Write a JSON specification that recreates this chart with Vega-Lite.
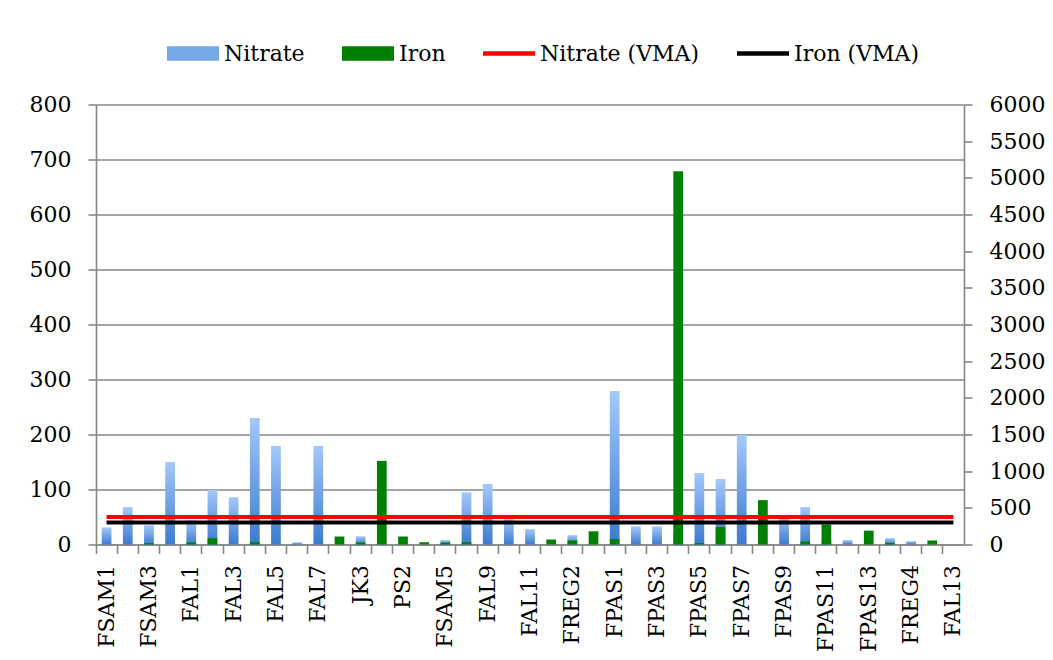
{
  "$schema": "https://vega.github.io/schema/vega-lite/v6.json",
  "autosize": {"type": "none"},
  "padding": {"left": 96, "top": 104.5, "right": 89, "bottom": 115.5},
  "width": 868,
  "height": 440,
  "background": "#ffffff",
  "config": {
    "view": {"stroke": null},
    "font": "DejaVu Serif",
    "axis": {"labelFont": "DejaVu Serif", "labelFontSize": 22, "labelColor": "#000000", "domainColor": "#878787", "domainWidth": 1.6, "tickColor": "#878787", "tickWidth": 1.6, "gridColor": "#878787", "gridWidth": 1.6, "titleFontSize": 0}
  },
  "data": {"values": [
    {"site": "FSAM1", "nitrate": 31, "iron": 0, "nitrate_vma": 50, "iron_vma": 300},
    {"site": "FSAM2", "nitrate": 68, "iron": 0, "nitrate_vma": 50, "iron_vma": 300},
    {"site": "FSAM3", "nitrate": 35, "iron": 18, "nitrate_vma": 50, "iron_vma": 300},
    {"site": "FSAM4", "nitrate": 150, "iron": 0, "nitrate_vma": 50, "iron_vma": 300},
    {"site": "FAL1", "nitrate": 44, "iron": 27, "nitrate_vma": 50, "iron_vma": 300},
    {"site": "FAL2", "nitrate": 99, "iron": 86, "nitrate_vma": 50, "iron_vma": 300},
    {"site": "FAL3", "nitrate": 86, "iron": 0, "nitrate_vma": 50, "iron_vma": 300},
    {"site": "FAL4", "nitrate": 230, "iron": 31, "nitrate_vma": 50, "iron_vma": 300},
    {"site": "FAL5", "nitrate": 179, "iron": 0, "nitrate_vma": 50, "iron_vma": 300},
    {"site": "FAL6", "nitrate": 4, "iron": 0, "nitrate_vma": 50, "iron_vma": 300},
    {"site": "FAL7", "nitrate": 179, "iron": 0, "nitrate_vma": 50, "iron_vma": 300},
    {"site": "JK2", "nitrate": 0, "iron": 109, "nitrate_vma": 50, "iron_vma": 300},
    {"site": "JK3", "nitrate": 15, "iron": 27, "nitrate_vma": 50, "iron_vma": 300},
    {"site": "PS1", "nitrate": 0, "iron": 1140, "nitrate_vma": 50, "iron_vma": 300},
    {"site": "PS2", "nitrate": 0, "iron": 109, "nitrate_vma": 50, "iron_vma": 300},
    {"site": "PS3", "nitrate": 0, "iron": 31, "nitrate_vma": 50, "iron_vma": 300},
    {"site": "FSAM5", "nitrate": 8, "iron": 27, "nitrate_vma": 50, "iron_vma": 300},
    {"site": "FAL8", "nitrate": 95, "iron": 31, "nitrate_vma": 50, "iron_vma": 300},
    {"site": "FAL9", "nitrate": 110, "iron": 0, "nitrate_vma": 50, "iron_vma": 300},
    {"site": "FAL10", "nitrate": 46, "iron": 0, "nitrate_vma": 50, "iron_vma": 300},
    {"site": "FAL11", "nitrate": 28, "iron": 0, "nitrate_vma": 50, "iron_vma": 300},
    {"site": "FREG1", "nitrate": 0, "iron": 68, "nitrate_vma": 50, "iron_vma": 300},
    {"site": "FREG2", "nitrate": 17, "iron": 55, "nitrate_vma": 50, "iron_vma": 300},
    {"site": "FREG3", "nitrate": 0, "iron": 180, "nitrate_vma": 50, "iron_vma": 300},
    {"site": "FPAS1", "nitrate": 279, "iron": 75, "nitrate_vma": 50, "iron_vma": 300},
    {"site": "FPAS2", "nitrate": 33, "iron": 0, "nitrate_vma": 50, "iron_vma": 300},
    {"site": "FPAS3", "nitrate": 33, "iron": 0, "nitrate_vma": 50, "iron_vma": 300},
    {"site": "FPAS4", "nitrate": 24, "iron": 5090, "nitrate_vma": 50, "iron_vma": 300},
    {"site": "FPAS5", "nitrate": 130, "iron": 18, "nitrate_vma": 50, "iron_vma": 300},
    {"site": "FPAS6", "nitrate": 119, "iron": 238, "nitrate_vma": 50, "iron_vma": 300},
    {"site": "FPAS7", "nitrate": 199, "iron": 0, "nitrate_vma": 50, "iron_vma": 300},
    {"site": "FPAS8", "nitrate": 0, "iron": 605, "nitrate_vma": 50, "iron_vma": 300},
    {"site": "FPAS9", "nitrate": 53, "iron": 0, "nitrate_vma": 50, "iron_vma": 300},
    {"site": "FPAS10", "nitrate": 68, "iron": 41, "nitrate_vma": 50, "iron_vma": 300},
    {"site": "FPAS11", "nitrate": 6.5, "iron": 273, "nitrate_vma": 50, "iron_vma": 300},
    {"site": "FPAS12", "nitrate": 8, "iron": 0, "nitrate_vma": 50, "iron_vma": 300},
    {"site": "FPAS13", "nitrate": 0, "iron": 189, "nitrate_vma": 50, "iron_vma": 300},
    {"site": "FPAS14", "nitrate": 11.5, "iron": 22, "nitrate_vma": 50, "iron_vma": 300},
    {"site": "FREG4", "nitrate": 6, "iron": 0, "nitrate_vma": 50, "iron_vma": 300},
    {"site": "FAL12", "nitrate": 0, "iron": 55, "nitrate_vma": 50, "iron_vma": 300},
    {"site": "FAL13", "nitrate": 0, "iron": 0, "nitrate_vma": 50, "iron_vma": 300}
  ]},
  "encoding": {
    "x": {
      "field": "site", "type": "nominal", "sort": null,
      "scale": {"paddingInner": 0, "paddingOuter": 0},
      "axis": {
        "title": null, "labelAngle": -90, "labelPadding": 11, "tickSize": 9, "bandPosition": 0,
        "labelExpr": "indexof(['FSAM1','FSAM3','FAL1','FAL3','FAL5','FAL7','JK3','PS2','FSAM5','FAL9','FAL11','FREG2','FPAS1','FPAS3','FPAS5','FPAS7','FPAS9','FPAS11','FPAS13','FREG4','FAL13'], datum.value) >= 0 ? datum.value : ''",
        "labelOverlap": false, "grid": false
      }
    }
  },
  "layer": [
    {
      "mark": {"type": "bar", "width": {"band": 0.46}, "color": {"gradient": "linear", "x1": 0, "y1": 0, "x2": 0, "y2": 1, "stops": [{"offset": 0, "color": "#a4c8fb"}, {"offset": 1, "color": "#3c7bcc"}]}},
      "encoding": {
        "y": {"field": "nitrate", "type": "quantitative", "scale": {"domain": [0, 800], "nice": false},
          "axis": {"title": null, "orient": "left", "values": [0, 100, 200, 300, 400, 500, 600, 700, 800], "grid": true, "tickSize": 8, "labelPadding": 17}}
      }
    },
    {
      "mark": {"type": "bar", "width": {"band": 0.46}},
      "encoding": {
        "y": {"field": "iron", "type": "quantitative", "scale": {"domain": [0, 6000], "nice": false},
          "axis": {"title": null, "orient": "right", "format": "d", "values": [0, 500, 1000, 1500, 2000, 2500, 3000, 3500, 4000, 4500, 5000, 5500, 6000], "grid": false, "tickSize": 8, "labelPadding": 17}},
        "color": {"datum": "Iron", "type": "nominal",
          "scale": {"domain": ["Nitrate", "Iron", "Nitrate (VMA)", "Iron (VMA)"], "range": ["#74a6e8", "#008000", "#ff0000", "#000000"]},
          "legend": {
            "orient": "none", "legendX": 71, "legendY": -77, "direction": "horizontal", "title": null,
            "padding": 0, "columnPadding": 37, "labelOffset": 5,
            "labelFont": "DejaVu Serif", "labelFontSize": 22, "labelColor": "#000000",
            "symbolType": "M-1,-0.28H1V0.28H-1Z", "symbolSize": 2704, "symbolStrokeWidth": 0,
            "encode": {"symbols": {"update": {
              "shape": {"signal": "(datum.value === 'Nitrate' || datum.value === 'Iron') ? 'M-1,-0.28H1V0.28H-1Z' : 'M-1,-0.085H1V0.085H-1Z'"},
              "opacity": {"value": 1},
              "strokeWidth": {"value": 0}
            }}}
          }
        }
      }
    },
    {
      "mark": {"type": "line", "strokeWidth": 3.8},
      "encoding": {
        "y": {"field": "nitrate_vma", "type": "quantitative", "scale": {"domain": [0, 800], "nice": false}, "axis": null},
        "color": {"datum": "Nitrate (VMA)", "type": "nominal"}
      }
    },
    {
      "mark": {"type": "line", "strokeWidth": 3.8},
      "encoding": {
        "y": {"field": "iron_vma", "type": "quantitative", "scale": {"domain": [0, 6000], "nice": false}, "axis": null},
        "color": {"datum": "Iron (VMA)", "type": "nominal"}
      }
    }
  ],
  "resolve": {"scale": {"y": "independent"}}
}
